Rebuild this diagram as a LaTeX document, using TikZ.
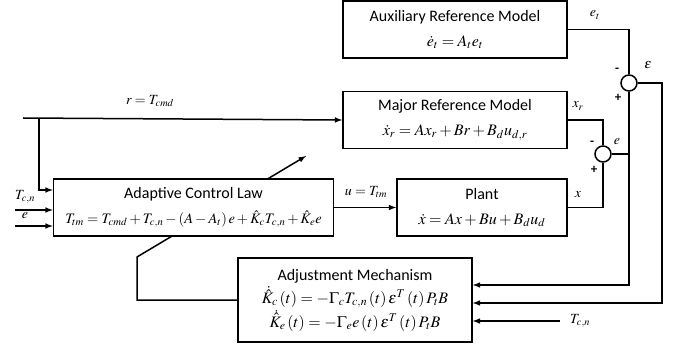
\documentclass[tikz,border=0pt]{standalone}
\usepackage{amsmath}
\usepackage{mathptmx}
\usepackage[no-math]{fontspec}
\setmainfont{Carlito}
\usepackage{tikz}
\usetikzlibrary{arrows, positioning, calc, backgrounds}
\tikzstyle{block} = [rectangle, draw=black, fill=white, line width=1.5pt, text centered, align=center, inner sep=0pt, font=\fontsize{16}{25}\selectfont]
\tikzstyle{sumc} = [circle, draw=black, fill=white, line width=1.5pt, minimum size=16pt, inner sep=0pt]
\tikzstyle{line} = [line width=1.5pt]
\tikzstyle{arrow} = [line width=1.5pt,->,>=latex]
\tikzstyle{lbl} = [inner sep=0pt, font=\fontsize{14}{16}\selectfont]
\tikzstyle{sgn} = [inner sep=0pt, font=\fontsize{13}{14}\selectfont\bfseries]

\begin{document}
\begin{tikzpicture}[x=1pt, y=-1pt, node distance=32pt]
\useasboundingbox (0,0) rectangle (679,347);

% Nodes
\node (aux) [block, minimum width=224pt, minimum height=57pt] at (455,29.5) {Auxiliary Reference Model\\ $\dot e_t = A_t e_t$};
\node (major) [block, minimum width=224pt, minimum height=57pt, below=of aux] {Major Reference Model\\ $\dot x_r = Ax_r + Br + B_d u_{d,r}$};
\node (plant) [block, minimum width=170pt, minimum height=57pt] at (482,207.5) {Plant\\ $\dot x = Ax + Bu + B_d u_d$};
\node (acl) [block, minimum width=280pt, minimum height=57pt, left=62pt of plant] {Adaptive Control Law\\ \fontsize{14.5}{24}\selectfont $T_{tm} = T_{cmd} + T_{c,n} - \left(A - A_t\right)e + \hat K_c T_{c,n} + \hat K_e e$};
\node (adj) [block, minimum width=234pt, minimum height=84pt, font=\fontsize{16}{23.5}\selectfont] at (355,300) {Adjustment Mechanism\\ $\dot{\hat K}_c\left(t\right) = -\Gamma_c T_{c,n}\left(t\right)\varepsilon^T\left(t\right)P_t B$\\ $\dot{\hat K}_e\left(t\right) = -\Gamma_e e\left(t\right)\varepsilon^T\left(t\right)P_t B$};

\node (sum1) [sumc] at (629,83) {};
\node (sum2) [sumc] at (603,154) {};

\coordinate (rin) at (23,118);
\coordinate (rbr) at (39,118);
\coordinate (tcnin) at (15,210);
\coordinate (ein) at (15,226);
\coordinate (tcnadj) at (560,321);
\coordinate (fbk) at (137,257);
\coordinate (gain) at (306,156);

% Labels
\node (rlbl) [lbl] at (150,101) {$r = T_{cmd}$};
\node (tcnlbl) [lbl] at (25,197) {$T_{c,n}$};
\node (elbl) [lbl] at (25,216) {$e$};
\node (ulbl) [lbl] at (366,192) {$u = T_{tm}$};
\node (etlbl) [lbl] at (595,15) {$e_t$};
\node (xrlbl) [lbl] at (578,106) {$x_r$};
\node (xlbl) [lbl] at (578,195) {$x$};
\node (epslbl) [lbl] at (648,65) {$\varepsilon$};
\node (elbl2) [lbl] at (617,142) {$e$};
\node (tcnlbl2) [lbl, right=10pt of tcnadj] {$T_{c,n}$};
\node [sgn] at (617,70) {-};
\node [sgn] at (618,98) {+};
\node [sgn] at (592,143) {-};
\node [sgn] at (594,170) {+};

% Arrows
\draw [line] (aux.east) -| (sum1.north);
\draw [line] (major.east) -| (sum2.north);
\draw [line] (plant.east) -| (sum2.south);
\draw [line] (sum2.east) -- (sum2.east -| sum1.south);
\draw [arrow] (sum1.south) |- ([yshift=15pt]adj.east);
\draw [arrow] (sum1.east) -- ++(24,0) |- ([yshift=-3pt]adj.east);
\draw [arrow] (tcnadj) -- ([yshift=-21pt]adj.east);

\draw [arrow] (rin) -- (major.west);
\draw [arrow] (rbr) |- ([yshift=17.5pt]acl.west);
\draw [arrow] (tcnin) -- ([yshift=-2.5pt]acl.west);
\draw [arrow] (ein) -- ([yshift=-18.5pt]acl.west);
\draw [arrow] (acl.east) -- (plant.west);

\begin{scope}[on background layer]
\draw [arrow] (adj.west) -| (fbk) -- (gain);
\end{scope}

\end{tikzpicture}
\end{document}
